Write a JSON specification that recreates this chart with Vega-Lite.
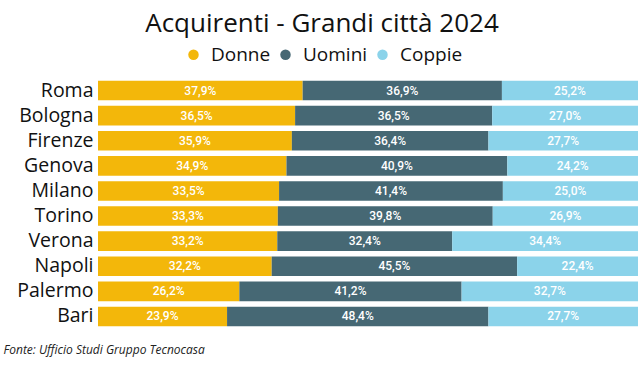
{
  "$schema": "https://vega.github.io/schema/vega-lite/v6.json",
  "width": 540,
  "height": 251,
  "autosize": {"type": "none"},
  "padding": {"left": 98, "top": 78, "right": 5, "bottom": 38},
  "background": "white",
  "config": {
    "view": {"stroke": null},
    "locale": {"number": {"decimal": ",", "thousands": ".", "grouping": [3], "currency": ["€", ""]}}
  },
  "title": {
    "text": "Acquirenti - Grandi città 2024",
    "font": "Open Sans",
    "fontSize": 26,
    "fontWeight": "normal",
    "color": "#111111",
    "anchor": "middle",
    "frame": "group",
    "dx": -46,
    "offset": 8
  },
  "data": {
    "values": [
      {"city": "Roma", "group": "Donne", "ord": 1, "value": 0.379},
      {"city": "Roma", "group": "Uomini", "ord": 2, "value": 0.369},
      {"city": "Roma", "group": "Coppie", "ord": 3, "value": 0.252},
      {"city": "Bologna", "group": "Donne", "ord": 1, "value": 0.365},
      {"city": "Bologna", "group": "Uomini", "ord": 2, "value": 0.365},
      {"city": "Bologna", "group": "Coppie", "ord": 3, "value": 0.270},
      {"city": "Firenze", "group": "Donne", "ord": 1, "value": 0.359},
      {"city": "Firenze", "group": "Uomini", "ord": 2, "value": 0.364},
      {"city": "Firenze", "group": "Coppie", "ord": 3, "value": 0.277},
      {"city": "Genova", "group": "Donne", "ord": 1, "value": 0.349},
      {"city": "Genova", "group": "Uomini", "ord": 2, "value": 0.409},
      {"city": "Genova", "group": "Coppie", "ord": 3, "value": 0.242},
      {"city": "Milano", "group": "Donne", "ord": 1, "value": 0.335},
      {"city": "Milano", "group": "Uomini", "ord": 2, "value": 0.414},
      {"city": "Milano", "group": "Coppie", "ord": 3, "value": 0.250},
      {"city": "Torino", "group": "Donne", "ord": 1, "value": 0.333},
      {"city": "Torino", "group": "Uomini", "ord": 2, "value": 0.398},
      {"city": "Torino", "group": "Coppie", "ord": 3, "value": 0.269},
      {"city": "Verona", "group": "Donne", "ord": 1, "value": 0.332},
      {"city": "Verona", "group": "Uomini", "ord": 2, "value": 0.324},
      {"city": "Verona", "group": "Coppie", "ord": 3, "value": 0.344},
      {"city": "Napoli", "group": "Donne", "ord": 1, "value": 0.322},
      {"city": "Napoli", "group": "Uomini", "ord": 2, "value": 0.455},
      {"city": "Napoli", "group": "Coppie", "ord": 3, "value": 0.224},
      {"city": "Palermo", "group": "Donne", "ord": 1, "value": 0.262},
      {"city": "Palermo", "group": "Uomini", "ord": 2, "value": 0.412},
      {"city": "Palermo", "group": "Coppie", "ord": 3, "value": 0.327},
      {"city": "Bari", "group": "Donne", "ord": 1, "value": 0.239},
      {"city": "Bari", "group": "Uomini", "ord": 2, "value": 0.484},
      {"city": "Bari", "group": "Coppie", "ord": 3, "value": 0.277}
    ]
  },
  "transform": [
    {"stack": "value", "groupby": ["city"], "sort": [{"field": "ord", "order": "ascending"}], "as": ["v0", "v1"], "offset": "normalize"},
    {"calculate": "(datum.v0 + datum.v1) / 2", "as": "mid"}
  ],
  "encoding": {
    "y": {
      "field": "city",
      "type": "nominal",
      "sort": ["Roma", "Bologna", "Firenze", "Genova", "Milano", "Torino", "Verona", "Napoli", "Palermo", "Bari"],
      "scale": {"paddingInner": 0.22, "paddingOuter": 0.11},
      "axis": {
        "title": null,
        "domain": false,
        "ticks": false,
        "labelFont": "Open Sans",
        "labelFontSize": 19.5,
        "labelColor": "#111111",
        "labelPadding": 5
      }
    }
  },
  "layer": [
    {
      "mark": {"type": "bar"},
      "encoding": {
        "x": {
          "field": "v0",
          "type": "quantitative",
          "scale": {"domain": [0, 1], "nice": false, "zero": true},
          "axis": {
            "labels": false,
            "ticks": false,
            "domain": false,
            "grid": false,
            "title": "Fonte: Ufficio Studi Gruppo Tecnocasa",
            "titleFont": "Open Sans",
            "titleFontSize": 12,
            "titleFontStyle": "italic",
            "titleFontWeight": "normal",
            "titleColor": "#222222",
            "titleAnchor": "start",
            "titleAlign": "left",
            "titleBaseline": "top",
            "titleX": -95,
            "titleY": 15
          }
        },
        "x2": {"field": "v1"},
        "color": {
          "field": "group",
          "type": "nominal",
          "scale": {"domain": ["Donne", "Uomini", "Coppie"], "range": ["#F3B70A", "#466874", "#8BD3EA"]},
          "legend": {
            "title": null,
            "orient": "none",
            "direction": "horizontal",
            "legendX": 86,
            "legendY": -33,
            "symbolType": "circle",
            "symbolSize": 110,
            "labelFont": "Open Sans",
            "labelFontSize": 19,
            "labelColor": "#111111",
            "columnPadding": 5,
            "labelOffset": 8
          }
        }
      }
    },
    {
      "mark": {"type": "text", "color": "white", "font": "Roboto", "fontSize": 12, "fontWeight": 500, "baseline": "middle", "align": "center"},
      "encoding": {
        "x": {"field": "mid", "type": "quantitative"},
        "text": {"field": "value", "type": "quantitative", "format": ".1%"}
      }
    }
  ]
}
